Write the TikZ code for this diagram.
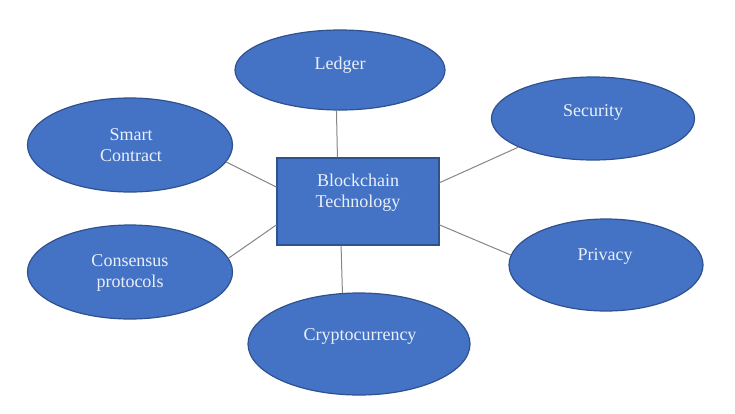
\documentclass[tikz,border=0pt]{standalone}
\usepackage{fontspec}
\setmainfont{Liberation Serif}
\usetikzlibrary{shapes.geometric}
\definecolor{bfill}{HTML}{4472C4}
\definecolor{bdraw}{HTML}{2F528F}
\definecolor{btext}{HTML}{EAF0FA}
\definecolor{conn}{HTML}{868686}
\tikzset{
  bubble/.style={ellipse, draw=bdraw, fill=bfill, line width=1.2pt, inner sep=0pt},
  centerbox/.style={rectangle, draw=bdraw, fill=bfill, line width=1.2pt, inner sep=0pt,
    minimum width=162pt, minimum height=87pt},
  labeltext/.style={text=btext, font=\fontsize{18}{21}\selectfont, align=center, inner sep=0pt},
  connector/.style={draw=conn, line width=1pt}
}
\begin{document}
\begin{tikzpicture}[x=1pt, y=-1pt]
\useasboundingbox (0,0) rectangle (735,413);
\fill[white] (0,0) rectangle (735,413);

\node[centerbox] (box) at (358,201.5) {};
\node[labeltext] (boxtext) at (358,193) {Blockchain\\Technology};

\node[bubble, minimum width=210pt, minimum height=80pt] (ledger) at (340,70) {};
\node[labeltext] (ledgertext) at (340,65) {Ledger};

\node[bubble, minimum width=205pt, minimum height=94pt] (smart) at (130,145) {};
\node[labeltext] (smarttext) at (131,145) {Smart\\Contract};

\node[bubble, minimum width=205pt, minimum height=94pt] (consensus) at (130,272) {};
\node[labeltext] (consensustext) at (130,273) {Consensus\\protocols};

\node[bubble, minimum width=203pt, minimum height=83pt] (security) at (593,118.5) {};
\node[labeltext] (securitytext) at (593,112) {Security};

\node[bubble, minimum width=194pt, minimum height=92pt] (privacy) at (606,265) {};
\node[labeltext] (privacytext) at (605,256) {Privacy};

\node[bubble, minimum width=222pt, minimum height=102pt] (crypto) at (359,344) {};
\node[labeltext] (cryptotext) at (360,336) {Cryptocurrency};

\draw[connector] (ledger.265.7) -- (box.115.8);
\draw[connector] (crypto.108.4) -- (box.249.8);
\draw[connector] (smart.350.4) -- (box.170.9);
\draw[connector] (consensus.8.4) -- (box.196.5);
\draw[connector] (security.201) -- (box.13.2);
\draw[connector] (privacy.174) -- (box.344.8);
\end{tikzpicture}
\end{document}
